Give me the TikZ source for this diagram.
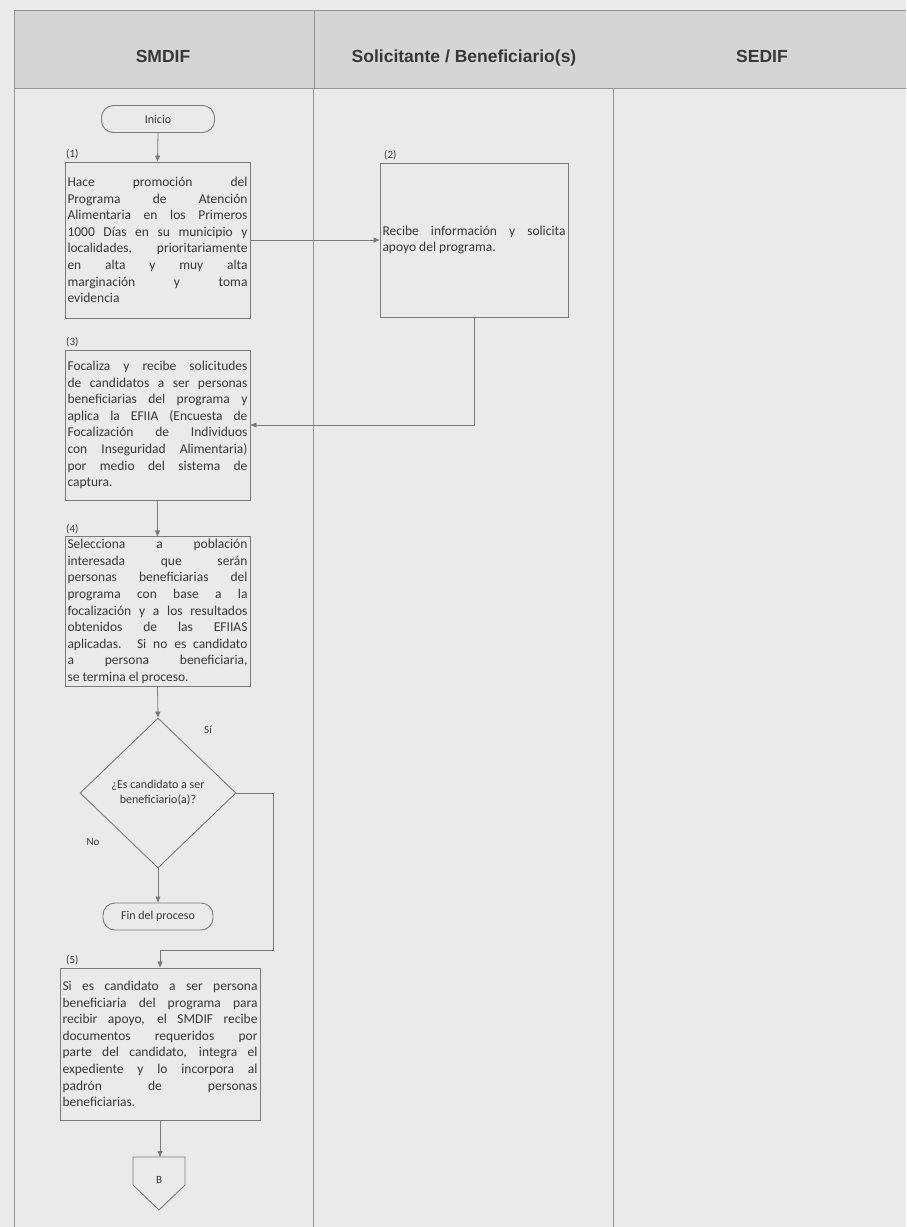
\documentclass[tikz,border=0pt]{standalone}
\usepackage{fontspec}
\setmainfont{Carlito}
\newfontfamily\headfont{Liberation Sans}
\usetikzlibrary{shapes.geometric,arrows.meta}
\definecolor{bgc}{HTML}{EAEAEA}
\definecolor{hdc}{HTML}{D5D5D5}
\definecolor{lnc}{HTML}{7A7A7A}
\definecolor{txc}{HTML}{383838}
\tikzset{
  stepbox/.style={draw=lnc, line width=0.9pt, rectangle, inner sep=2.5pt, align=justify, text=txc, font=\fontsize{13.5}{16.6}\selectfont},
  termbox/.style={draw=lnc, line width=0.9pt, rectangle, rounded corners=12pt, text=txc, font=\fontsize{12}{14}\selectfont, minimum height=27pt},
  decbox/.style={draw=lnc, line width=0.9pt, diamond, inner sep=0pt, text=txc, align=center, font=\fontsize{12}{15}\selectfont},
  numlbl/.style={text=txc, font=\fontsize{11}{12}\selectfont, inner sep=0pt},
  arr/.style={draw=lnc, line width=0.8pt, -{Triangle[width=5pt,length=6pt]}},
  lane/.style={draw=lnc!80, line width=0.9pt},
  headtxt/.style={text=txc, anchor=base, font=\headfont\bfseries\fontsize{17.5}{20}\selectfont}
}
\begin{document}
\begin{tikzpicture}[x=1pt,y=-1pt]
\useasboundingbox (0,0) rectangle (906,1227);
\fill[bgc] (0,0) rectangle (906,1227);
\fill[hdc] (14,10) rectangle (906,88);
\draw[lane] (14,10) -- (906,10);
\draw[lane] (14,88) -- (906,88);
\draw[lane] (14,10) -- (14,1227);
\draw[lane] (314,10) -- (314,88);
\draw[lane] (313,88) -- (313,1227);
\draw[lane] (613,88) -- (613,1227);
\node[headtxt] (h1) at (163,62) {SMDIF};
\node[headtxt] (h2) at (464,62) {Solicitante / Beneficiario(s)};
\node[headtxt] (h3) at (762,62) {SEDIF};

\node[termbox, minimum width=113pt] (inicio) at (158,119) {Inicio};

\node[stepbox, text width=180pt, minimum width=185pt, minimum height=156pt] (b1) at (157.5,240)
{Hace promoción del\linebreak Programa de Atención\linebreak Alimentaria en los Primeros\linebreak 1000 Días en su municipio y\linebreak localidades, prioritariamente\linebreak en alta y muy alta\linebreak marginación y toma\linebreak evidencia};
\node[numlbl, anchor=south west] (l1) at (66,159) {(1)};

\node[stepbox, text width=183pt, minimum width=188pt, minimum height=154pt] (b2) at (474,240)
{Recibe información y solicita\linebreak apoyo del programa.};
\node[numlbl, anchor=south west] (l2) at (384,160) {(2)};

\node[stepbox, text width=180pt, minimum width=185pt, minimum height=150pt] (b3) at (157.5,425)
{Focaliza y recibe solicitudes\linebreak de candidatos a ser personas\linebreak beneficiarias del programa y\linebreak aplica la EFIIA (Encuesta de\linebreak Focalización de Individuos\linebreak con Inseguridad Alimentaria)\linebreak por medio del sistema de\linebreak captura.};
\node[numlbl, anchor=south west] (l3) at (66,347) {(3)};

\node[stepbox, text width=180pt, minimum width=185pt, minimum height=149pt] (b4) at (157.5,611.5)
{Selecciona a población\linebreak interesada que serán\linebreak personas beneficiarias del\linebreak programa con base a la\linebreak focalización y a los resultados\linebreak obtenidos de las EFIIAS\linebreak aplicadas. Si no es candidato\linebreak a persona beneficiaria,\linebreak se termina el proceso.};
\node[numlbl, anchor=south west] (l4) at (66,534) {(4)};

\node[decbox, minimum width=156pt, minimum height=150pt] (dec) at (158,793) {¿Es candidato a ser\\beneficiario(a)?};
\node[numlbl] (si) at (208,730) {Sí};
\node[numlbl] (no) at (93,842) {No};

\node[termbox, minimum width=110pt] (fin) at (158,916.5) {Fin del proceso};

\node[stepbox, text width=195pt, minimum width=200pt, minimum height=152pt] (b5) at (160,1044)
{Si es candidato a ser persona\linebreak beneficiaria del programa para\linebreak recibir apoyo, el SMDIF recibe\linebreak documentos requeridos por\linebreak parte del candidato, integra el\linebreak expediente y lo incorpora al\linebreak padrón de personas\linebreak beneficiarias.};
\node[numlbl, anchor=south west] (l5) at (66,965) {(5)};

\draw[draw=lnc, line width=0.9pt] (133,1157) -- (185,1157) -- (185,1185) -- (159,1210) -- (133,1185) -- cycle;
\node[text=txc, font=\fontsize{11}{12}\selectfont, inner sep=0pt] (off) at (159,1180) {B};
\coordinate (offtop) at (159,1157);

\coordinate (yesbend) at (273,950);

\draw[arr] (inicio.south) -- (b1.north);
\draw[arr] (b1.east) -- (b2.west);
\draw[arr] (b2.south) |- (b3.east);
\draw[arr] (b3.south) -- (b4.north);
\draw[arr] (b4.south) -- (dec.north);
\draw[arr] (dec.south) -- (fin.north);
\draw[arr] (dec.east) -| (yesbend) -| (b5.north);
\draw[arr] (b5.south) -- (b5.south |- offtop);
\end{tikzpicture}
\end{document}
